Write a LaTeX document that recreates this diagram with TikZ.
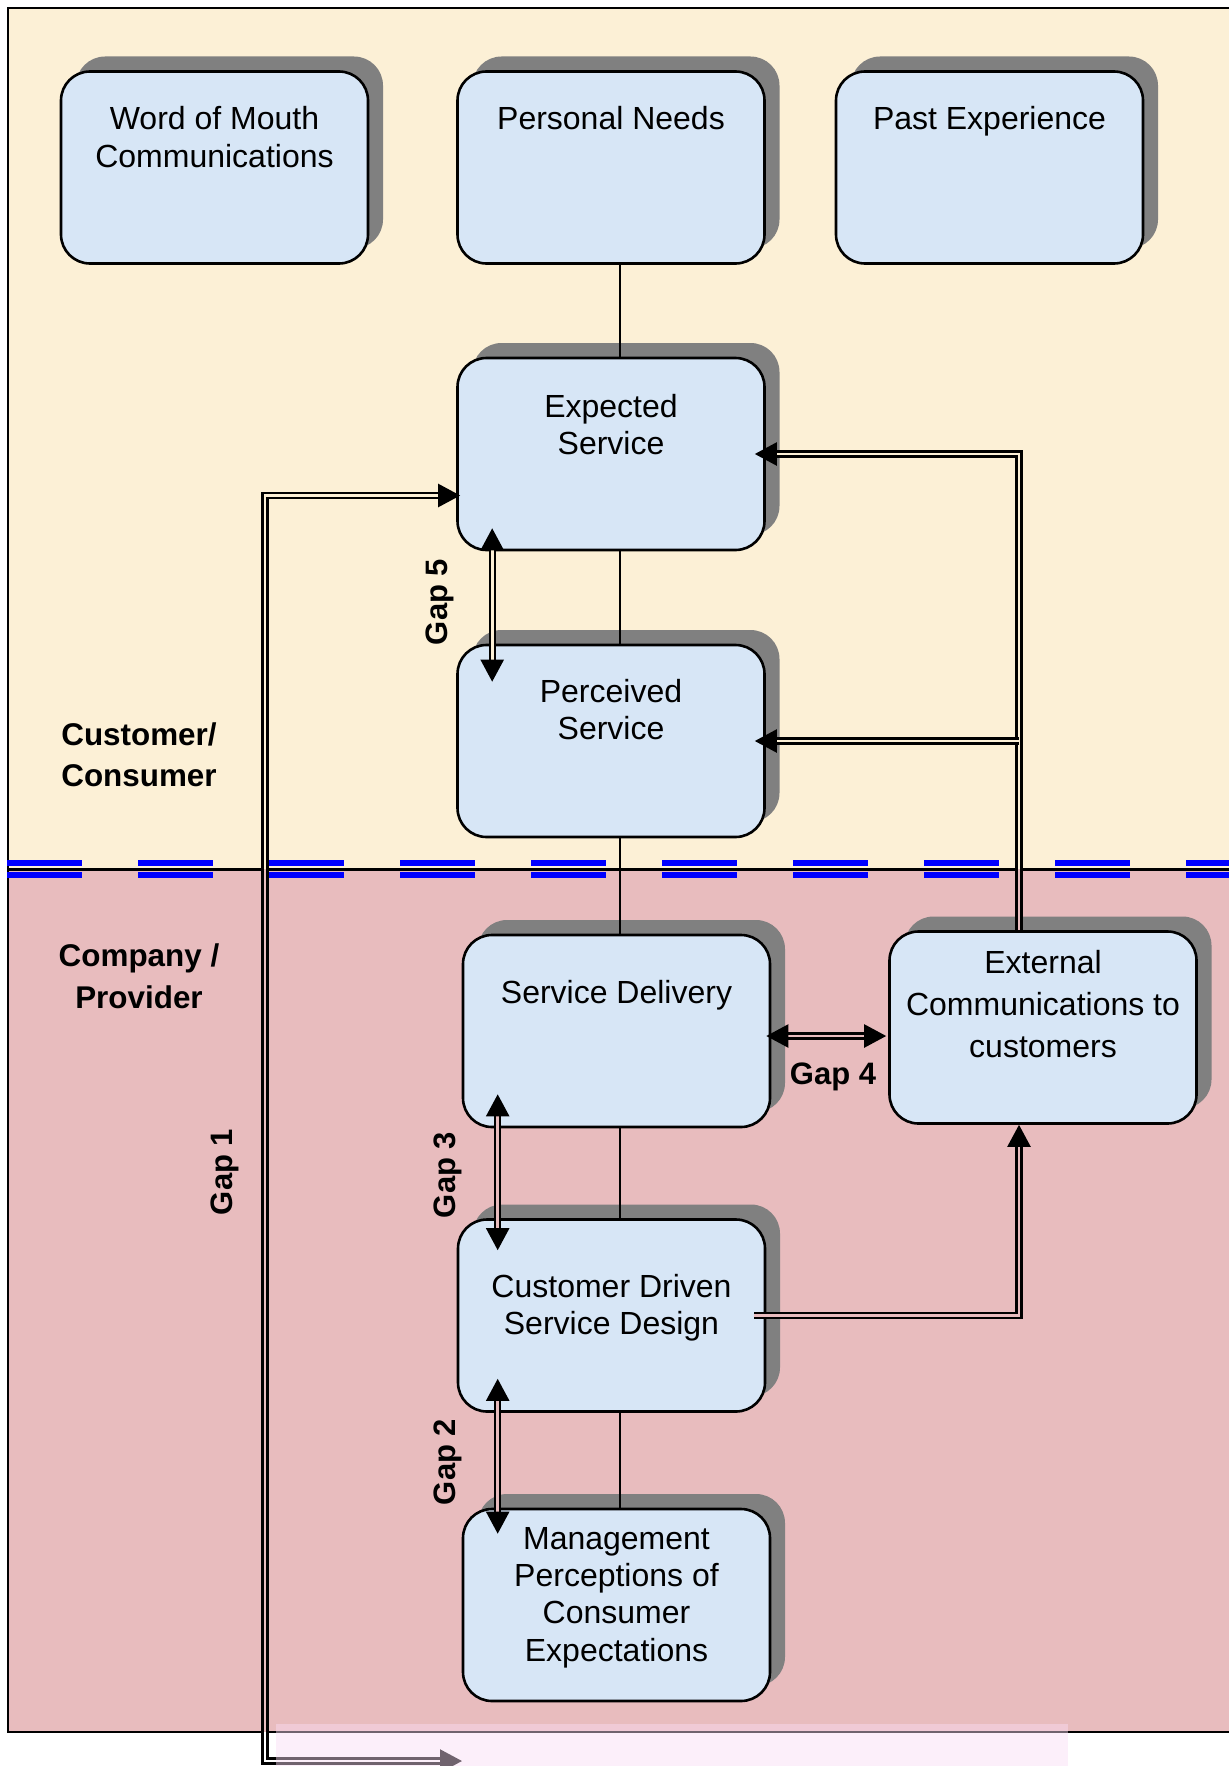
\documentclass[tikz,border=0pt]{standalone}
\usepackage{fontspec}
\setmainfont{Liberation Sans}
\usetikzlibrary{arrows.meta,calc,shadows}

\definecolor{paper}{RGB}{252,240,214}
\definecolor{rose}{RGB}{232,188,190}
\definecolor{boxblue}{RGB}{215,230,246}
\definecolor{shadowgray}{RGB}{128,128,128}
\definecolor{wmark}{RGB}{250,220,245}
\definecolor{dashblue}{RGB}{0,0,255}

\tikzset{
  stage/.style={draw=black, line width=1.3pt, fill=boxblue, rounded corners=14.5pt,
    minimum width=153.5pt, minimum height=96pt, inner sep=0pt,
    drop shadow={shadow xshift=7.5pt, shadow yshift=7.5pt, fill=shadowgray, opacity=1}},
  stagetext/.style={anchor=north, align=center, inner sep=0pt},
  sidelabel/.style={anchor=north, align=center, inner sep=0pt,
    font=\bfseries\fontsize{15.7}{20.85}\selectfont},
  gaplabel/.style={inner sep=0pt, font=\bfseries\fontsize{15.5}{18}\selectfont},
  spine/.style={line width=1pt},
  dbl/.style={line width=1.15pt, double distance=1.4pt},
  bandline/.style={dashblue, line width=3pt, dash pattern=on 37.5pt off 28pt}
}

% a double connector whose inner gap takes the colour of the band it crosses
\newcommand\bandeddraw[2]{%
  \begin{scope}\clip (0,0) rectangle (1229,869.5);
    \draw[dbl, double=paper, #1] #2;\end{scope}
  \begin{scope}\clip (0,869.5) rectangle (1229,1732);
    \draw[dbl, double=rose, #1] #2;\end{scope}
  \begin{scope}\clip (0,1732) rectangle (1229,1766);
    \draw[dbl, double=white, #1] #2;\end{scope}
}

\begin{document}
\begin{tikzpicture}[x=0.5pt, y=-0.5pt, >={Triangle[length=11pt,width=11.5pt]}]
\useasboundingbox (0,0) rectangle (1229,1766);
\fill[white] (0,0) rectangle (1229,1766);

% customer and provider bands
\fill[paper] (8,8) rectangle (1229,869.5);
\fill[rose] (8,869.5) rectangle (1229,1732);
\draw[line width=1.4pt] (1229,8) -- (8,8) -- (8,1732) -- (1229,1732);

% boundary between customer and provider
\draw[bandline] (7,863) -- (1229,863);
\draw[bandline] (7,875) -- (1229,875);
\draw[line width=1.7pt] (8,869.5) -- (1229,869.5);

% boxes
\node[stage] (wom)  at (214.5,167.5) {};
\node[stage] (pn)   at (611,167.5) {};
\node[stage] (pe)   at (989.5,167.5) {};
\node[stage] (exp)  at (611,454) {};
\node[stage] (perc) at (611,741) {};
\node[stage] (sd)   at (616.5,1031) {};
\node[stage] (ext)  at (1043,1027.5) {};
\node[stage] (cdsd) at (611.5,1315.5) {};
\node[stage] (mgmt) at (616.5,1605) {};

% box texts
\node[stagetext, font=\fontsize{16}{19.15}\selectfont] (wom-t) at (214.5,106) {Word of Mouth\\Communications};
\node[stagetext, font=\fontsize{16}{18.5}\selectfont] (pn-t) at (611,106) {Personal Needs};
\node[stagetext, font=\fontsize{16}{18.5}\selectfont] (pe-t) at (989.5,106) {Past Experience};
\node[stagetext, font=\fontsize{16}{18.5}\selectfont] (exp-t) at (611,394) {Expected\\Service};
\node[stagetext, font=\fontsize{16}{18.5}\selectfont] (perc-t) at (611,678.5) {Perceived\\Service};
\node[stagetext, font=\fontsize{16}{18.5}\selectfont] (sd-t) at (616.5,980) {Service Delivery};
\node[stagetext, font=\fontsize{16}{21}\selectfont] (ext-t) at (1043,949.7) {External\\Communications to\\customers};
\node[stagetext, font=\fontsize{16}{18.35}\selectfont] (cdsd-t) at (611.5,1274.3) {Customer Driven\\Service Design};
\node[stagetext, font=\fontsize{16}{18.6}\selectfont] (mgmt-t) at (616.5,1527) {Management\\Perceptions of\\Consumer\\Expectations};

% side labels
\node[sidelabel] (cust) at (139,722) {Customer/\\Consumer};
\node[sidelabel] (comp) at (139,943.5) {Company /\\Provider};

% central chain
\coordinate (spinex) at (620,0);
\draw[spine] (pn.south -| spinex) -- (exp.north -| spinex);
\draw[spine] (exp.south -| spinex) -- (perc.north -| spinex);
\draw[spine] (perc.south -| spinex) -- (sd.north -| spinex);
\draw[spine] (sd.south -| spinex) -- (cdsd.north -| spinex);
\draw[spine] (cdsd.south -| spinex) -- (mgmt.north -| spinex);

% gap arrows
\bandeddraw{<->}{($(exp.south west)+(36,-23)$) -- ($(perc.north west)+(36,38)$)}
\bandeddraw{<->}{($(sd.south west)+(36,-34)$) -- ($(cdsd.north west)+(41,32)$)}
\bandeddraw{<->}{($(cdsd.south west)+(41,-34)$) -- ($(mgmt.north west)+(36,26)$)}
\bandeddraw{<->}{($(sd.east)+(-5,5)$) -- ($(ext.west)+(-2,8.5)$)}

% gap 1 route
\coordinate (g1top) at (265,495.5);
\coordinate (g1bot) at (265,1761);
\coordinate (g1end) at (462,1761);
\bandeddraw{<->, shorten >=-2pt}{(g1end) -- (g1bot) -- (g1top) -- (g1top -| exp.west)}

% external communications feedback
\coordinate (railx) at (1019,0);
\bandeddraw{->, shorten >=-5.5pt}{(ext.north -| railx) |- (exp.east)}
\bandeddraw{->, shorten >=-5.5pt}{(railx |- perc.east) -- (perc.east)}
\bandeddraw{->}{($(cdsd.east)+(-12,0)$) -| (ext.south -| railx)}

% gap labels
\node[gaplabel, rotate=90] (gap5) at (440,602) {Gap 5};
\node[gaplabel, rotate=90] (gap3) at (448,1175) {Gap 3};
\node[gaplabel, rotate=90] (gap2) at (448,1462) {Gap 2};
\node[gaplabel, rotate=90] (gap1) at (225,1172) {Gap 1};
\node[gaplabel] (gap4) at (833,1076.5) {Gap 4};

% translucent strip along the bottom edge
\fill[wmark, opacity=0.45] (276,1724) rectangle (1068,1766);
\end{tikzpicture}
\end{document}
